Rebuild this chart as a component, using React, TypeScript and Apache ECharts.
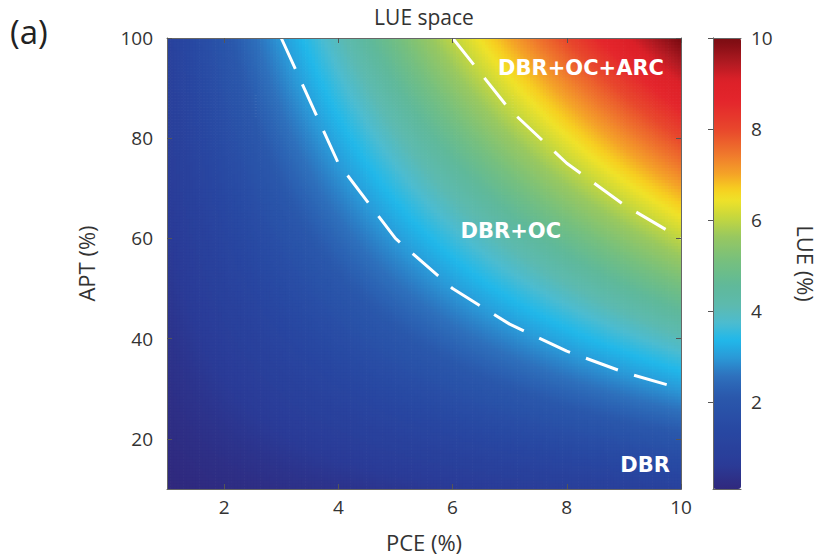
import React, { useEffect, useRef } from "react";
import * as echarts from "echarts";

// ---- data ----
const pceRange = [1, 10]; // PCE (%) axis extent
const aptRange = [10, 100]; // APT (%) axis extent
const lueRange = [0.1, 10]; // LUE (%) colour scale extent
const pceTicks = [2, 4, 6, 8, 10];
const aptTicks = [20, 40, 60, 80, 100];
const lueTicks = [2, 4, 6, 8, 10];

// dashed region boundaries
const boundaryLowPCE = [3, 4, 5, 6, 7, 8, 9, 10];
const boundaryLowAPT = [100, 75, 60, 50, 42.9, 37.5, 33.3, 30];
const boundaryHighPCE = [6, 7, 8, 9, 10];
const boundaryHighAPT = [100, 85.7, 75, 66.7, 60];

// region labels
const regionNames = ["DBR+OC+ARC", "DBR+OC", "DBR"];
const regionPCE = [8.25, 7.02, 9.37];
const regionAPT = [94, 61.5, 14.8];

// sampling of the LUE space (LUE = PCE x APT)
const nCols = 160;
const nRows = 150;

// ---- colour map (style) ----
const lueStops: [number, string][] = [
  [0.08, "#30287c"],
  [0.67, "#2a3c98"],
  [1.4, "#2848a2"],
  [2.13, "#2a58ac"],
  [2.57, "#2e70bc"],
  [3.0, "#2a9ad8"],
  [3.37, "#20b8ea"],
  [3.74, "#4cbcd0"],
  [4.1, "#5cbab0"],
  [4.55, "#5fb99a"],
  [5.06, "#74bf80"],
  [5.64, "#98c860"],
  [6.08, "#c8d83c"],
  [6.45, "#f0e228"],
  [6.67, "#f6d020"],
  [7.04, "#f4a028"],
  [7.4, "#f07c2c"],
  [7.98, "#e8482c"],
  [8.58, "#e4262c"],
  [9.08, "#dc2028"],
  [9.45, "#b01a22"],
  [9.96, "#7c0c12"],
];

function hexToRgb(h: string) {
  return [parseInt(h.slice(1, 3), 16), parseInt(h.slice(3, 5), 16), parseInt(h.slice(5, 7), 16)];
}
function colorAt(v: number) {
  if (v <= lueStops[0][0]) return lueStops[0][1];
  for (let i = 1; i < lueStops.length; i++) {
    if (v <= lueStops[i][0]) {
      const [v0, c0] = lueStops[i - 1];
      const [v1, c1] = lueStops[i];
      const t = (v - v0) / (v1 - v0);
      const a = hexToRgb(c0);
      const b = hexToRgb(c1);
      const c = a.map((x, k) => Math.round(x + (b[k] - x) * t));
      return `rgb(${c[0]},${c[1]},${c[2]})`;
    }
  }
  return lueStops[lueStops.length - 1][1];
}
const mapColors = Array.from({ length: 200 }, (_, k) =>
  colorAt(lueRange[0] + (k * (lueRange[1] - lueRange[0])) / 199)
);

const FONT = "'Open Sans', 'Noto Sans', sans-serif";
const BOLD_FONT = "'DejaVu Sans', 'Open Sans', sans-serif";
const TXT = "#333";
const AX = "#666";

export default function App() {
  const ref = useRef<HTMLDivElement>(null);

  useEffect(() => {
    if (!ref.current) return;
    const chart = echarts.init(ref.current, undefined, { renderer: "svg" });

    const dx = (pceRange[1] - pceRange[0]) / nCols;
    const dy = (aptRange[1] - aptRange[0]) / nRows;
    const field: number[][] = [];
    for (let j = 0; j < nRows; j++) {
      const apt = aptRange[0] + (j + 0.5) * dy;
      for (let i = 0; i < nCols; i++) {
        const pce = pceRange[0] + (i + 0.5) * dx;
        field.push([pce, apt, (pce * apt) / 100]);
      }
    }

    const tickStyle = { show: true, inside: true, length: 5, lineStyle: { color: "#555", width: 1 } };
    const lineStyle = { show: true, lineStyle: { color: AX, width: 1 } };
    const labelStyle = { color: TXT, fontSize: 19, fontFamily: FONT };

    const option: any = {
      animation: false,
      backgroundColor: "#fff",
      grid: [
        { left: 167, top: 38, width: 514, height: 451, containLabel: false },
        { left: 713, top: 38, width: 28, height: 451, containLabel: false },
      ],
      xAxis: [
        {
          type: "value", gridIndex: 0, min: pceRange[0], max: pceRange[1], position: "bottom", z: 5,
          axisLine: lineStyle,
          axisTick: { ...tickStyle, customValues: pceTicks },
          axisLabel: { ...labelStyle, margin: 8, customValues: pceTicks },
          splitLine: { show: false },
          name: "PCE (%)", nameLocation: "middle", nameGap: 42,
          nameTextStyle: { color: TXT, fontSize: 22, fontFamily: FONT },
        },
        {
          type: "value", gridIndex: 0, min: pceRange[0], max: pceRange[1], position: "top", z: 5,
          axisLine: lineStyle,
          axisTick: { ...tickStyle, customValues: pceTicks },
          axisLabel: { show: false },
          splitLine: { show: false },
        },
        {
          type: "value", gridIndex: 1, min: 0, max: 1, position: "bottom", z: 5,
          axisLine: lineStyle, axisTick: { show: false }, axisLabel: { show: false }, splitLine: { show: false },
        },
        {
          type: "value", gridIndex: 1, min: 0, max: 1, position: "top", z: 5,
          axisLine: lineStyle, axisTick: { show: false }, axisLabel: { show: false }, splitLine: { show: false },
        },
      ],
      yAxis: [
        {
          type: "value", gridIndex: 0, min: aptRange[0], max: aptRange[1], position: "left", z: 5,
          axisLine: lineStyle,
          axisTick: { ...tickStyle, customValues: aptTicks },
          axisLabel: { ...labelStyle, margin: 14, customValues: aptTicks },
          splitLine: { show: false },
          name: "APT (%)", nameLocation: "middle", nameGap: 70, nameRotate: 90,
          nameTextStyle: { color: TXT, fontSize: 22, fontFamily: FONT },
        },
        {
          type: "value", gridIndex: 0, min: aptRange[0], max: aptRange[1], position: "right", z: 5,
          axisLine: lineStyle,
          axisTick: { ...tickStyle, customValues: aptTicks },
          axisLabel: { show: false },
          splitLine: { show: false },
        },
        {
          type: "value", gridIndex: 1, min: lueRange[0], max: lueRange[1], position: "left", z: 5,
          axisLine: lineStyle, axisTick: { show: false }, axisLabel: { show: false }, splitLine: { show: false },
        },
        {
          type: "value", gridIndex: 1, min: lueRange[0], max: lueRange[1], position: "right", z: 5,
          axisLine: lineStyle,
          axisTick: { ...tickStyle, customValues: lueTicks },
          axisLabel: { ...labelStyle, margin: 10, customValues: lueTicks },
          splitLine: { show: false },
          name: "LUE (%)", nameLocation: "middle", nameGap: 54, nameRotate: -90,
          nameTextStyle: { color: TXT, fontSize: 22, fontFamily: FONT },
        },
      ],
      visualMap: {
        type: "continuous",
        min: lueRange[0],
        max: lueRange[1],
        dimension: 2,
        seriesIndex: 0,
        calculable: false,
        hoverLink: false,
        orient: "vertical",
        left: 713,
        top: 38,
        itemWidth: 28,
        itemHeight: 451,
        padding: 0,
        text: ["", ""],
        inRange: { color: mapColors },
      },
      series: [
        {
          type: "custom",
          xAxisIndex: 0,
          yAxisIndex: 0,
          data: field,
          encode: { x: 0, y: 1 },
          progressive: 0,
          silent: true,
          z: 1,
          renderItem: (params: any, api: any) => {
            const x = api.value(0);
            const y = api.value(1);
            const p0 = api.coord([x - dx / 2, y + dy / 2]);
            const p1 = api.coord([x + dx / 2, y - dy / 2]);
            return {
              type: "rect",
              shape: { x: p0[0], y: p0[1], width: p1[0] - p0[0] + 0.7, height: p1[1] - p0[1] + 0.7 },
              style: { fill: api.visual("color") },
            };
          },
        },
        {
          type: "line",
          xAxisIndex: 0,
          yAxisIndex: 0,
          data: boundaryLowPCE.map((p, i) => [p, boundaryLowAPT[i]]),
          symbol: "none",
          z: 3,
          silent: true,
          lineStyle: { color: "#fff", width: 3, type: [34, 17], cap: "butt" },
        },
        {
          type: "line",
          xAxisIndex: 0,
          yAxisIndex: 0,
          data: boundaryHighPCE.map((p, i) => [p, boundaryHighAPT[i]]),
          symbol: "none",
          z: 3,
          silent: true,
          lineStyle: { color: "#fff", width: 3, type: [34, 17], cap: "butt" },
        },
        {
          type: "scatter",
          xAxisIndex: 0,
          yAxisIndex: 0,
          symbolSize: 2,
          itemStyle: { color: "rgba(0,0,0,0)", opacity: 1 },
          z: 4,
          silent: true,
          data: regionNames.map((n, i) => ({ name: n, value: [regionPCE[i], regionAPT[i]] })),
          label: {
            show: true,
            position: "inside",
            formatter: (p: any) => p.name,
            color: "#ffffff",
            opacity: 1,
            fontSize: 21,
            fontWeight: "bold",
            fontFamily: BOLD_FONT,
          },
        },
      ],
      graphic: [
        {
          type: "text",
          x: 10,
          y: 31,
          style: { text: "(a)", fontSize: 33, fontFamily: FONT, fill: "#222", align: "left", verticalAlign: "middle" },
        },
        {
          type: "text",
          x: 424,
          y: 17,
          style: { text: "LUE space", fontSize: 21, fontFamily: FONT, fill: TXT, align: "center", verticalAlign: "middle" },
        },
      ],
    };

    chart.setOption(option);
    return () => chart.dispose();
  }, []);

  return <div ref={ref} style={{ width: 822, height: 558, position: "absolute", left: 0, top: 0 }} />;
}
